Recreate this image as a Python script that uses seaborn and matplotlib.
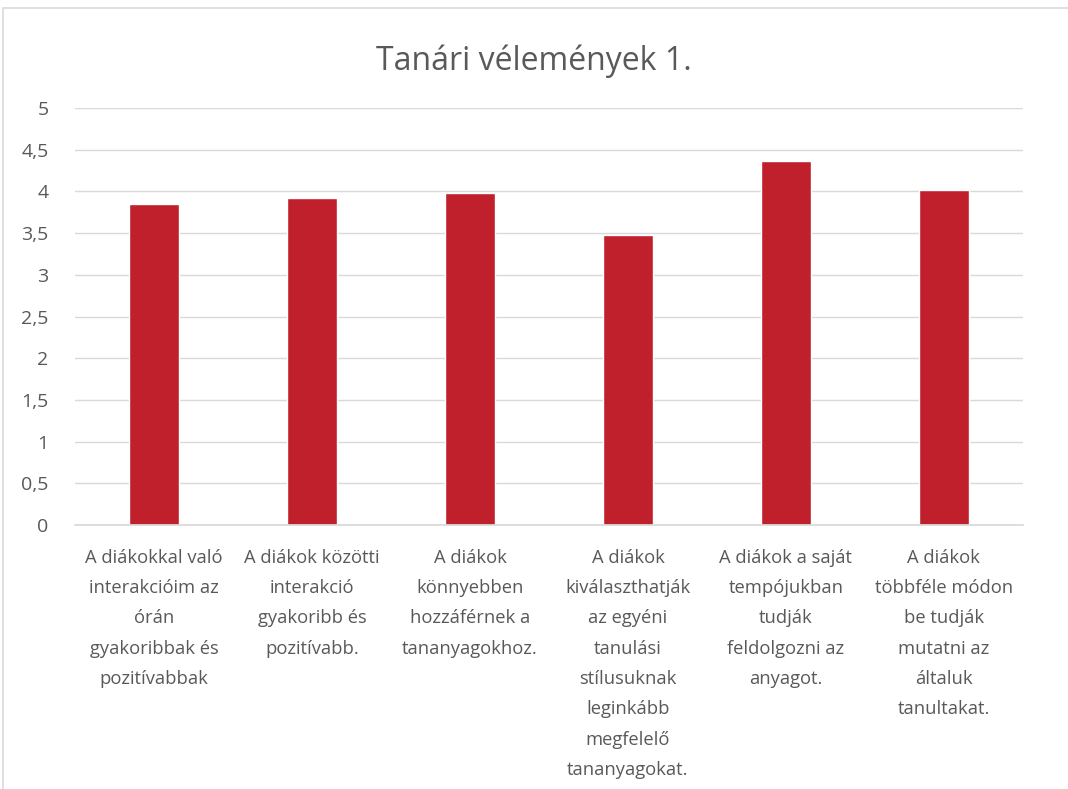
import matplotlib
matplotlib.use("Agg")
import matplotlib.pyplot as plt
import seaborn as sns
import pandas as pd
from matplotlib.patches import Rectangle

# chart data
categories = [
    "A diákokkal való\ninterakcióim az\nórán\ngyakoribbak és\npozitívabbak",
    "A diákok közötti\ninterakció\ngyakoribb és\npozitívabb.",
    "A diákok\nkönnyebben\nhozzáférnek a\ntananyagokhoz.",
    "A diákok\nkiválaszthatják\naz egyéni\ntanulási\nstílusuknak\nleginkább\nmegfelelő\ntananyagokat.",
    "A diákok a saját\ntempójukban\ntudják\nfeldolgozni az\nanyagot.",
    "A diákok\ntöbbféle módon\nbe tudják\nmutatni az\náltaluk\ntanultakat.",
]
values = [3.85, 3.92, 3.98, 3.48, 4.37, 4.02]
y_ticks = [0, 0.5, 1, 1.5, 2, 2.5, 3, 3.5, 4, 4.5, 5]
y_tick_labels = ["0", "0,5", "1", "1,5", "2", "2,5", "3", "3,5", "4", "4,5", "5"]
title = "Tanári vélemények 1."

BAR_COLOR = "#C0202B"
TEXT_COLOR = "#595959"
GRID_COLOR = "#D9D9D9"

sns.set_theme(style="white")
plt.rcParams["font.family"] = ["Open Sans", "DejaVu Sans"]

df = pd.DataFrame({"cat": categories, "val": values})

fig = plt.figure(figsize=(10.68, 7.89), dpi=100)
ax = fig.add_axes([0.0702, 0.3346, 0.8876, 0.5285])

sns.barplot(data=df, x="cat", y="val", color=BAR_COLOR, saturation=1,
            width=0.32, ax=ax)

ax.set_ylim(0, 5)
ax.set_xlim(-0.5, len(categories) - 0.5)
ax.set_yticks(y_ticks)
ax.set_yticklabels(y_tick_labels, fontsize=14, color=TEXT_COLOR)
ax.set_xticks(range(len(categories)))
ax.set_xticklabels(categories, fontsize=13.2, color=TEXT_COLOR,
                   linespacing=1.88, va="top")
ax.tick_params(axis="both", length=0)
ax.tick_params(axis="x", pad=17)
ax.tick_params(axis="y", pad=19)
ax.set_xlabel("")
ax.set_ylabel("")

ax.yaxis.grid(True, color=GRID_COLOR, linewidth=1)
ax.set_axisbelow(True)
for side in ["top", "right", "left"]:
    ax.spines[side].set_visible(False)
ax.spines["bottom"].set_color(GRID_COLOR)

fig.text(0.5, 0.922, title, ha="center", va="center", fontsize=23,
         color=TEXT_COLOR)

# outer chart frame (partly cropped in the reference)
fig.patches.append(Rectangle((3 / 1068, -0.01), 1.02, 1 - 8 / 789 + 0.01,
                             transform=fig.transFigure, fill=False,
                             edgecolor=GRID_COLOR, linewidth=1.2))

fig.savefig("out.png", dpi=100, facecolor="white")
